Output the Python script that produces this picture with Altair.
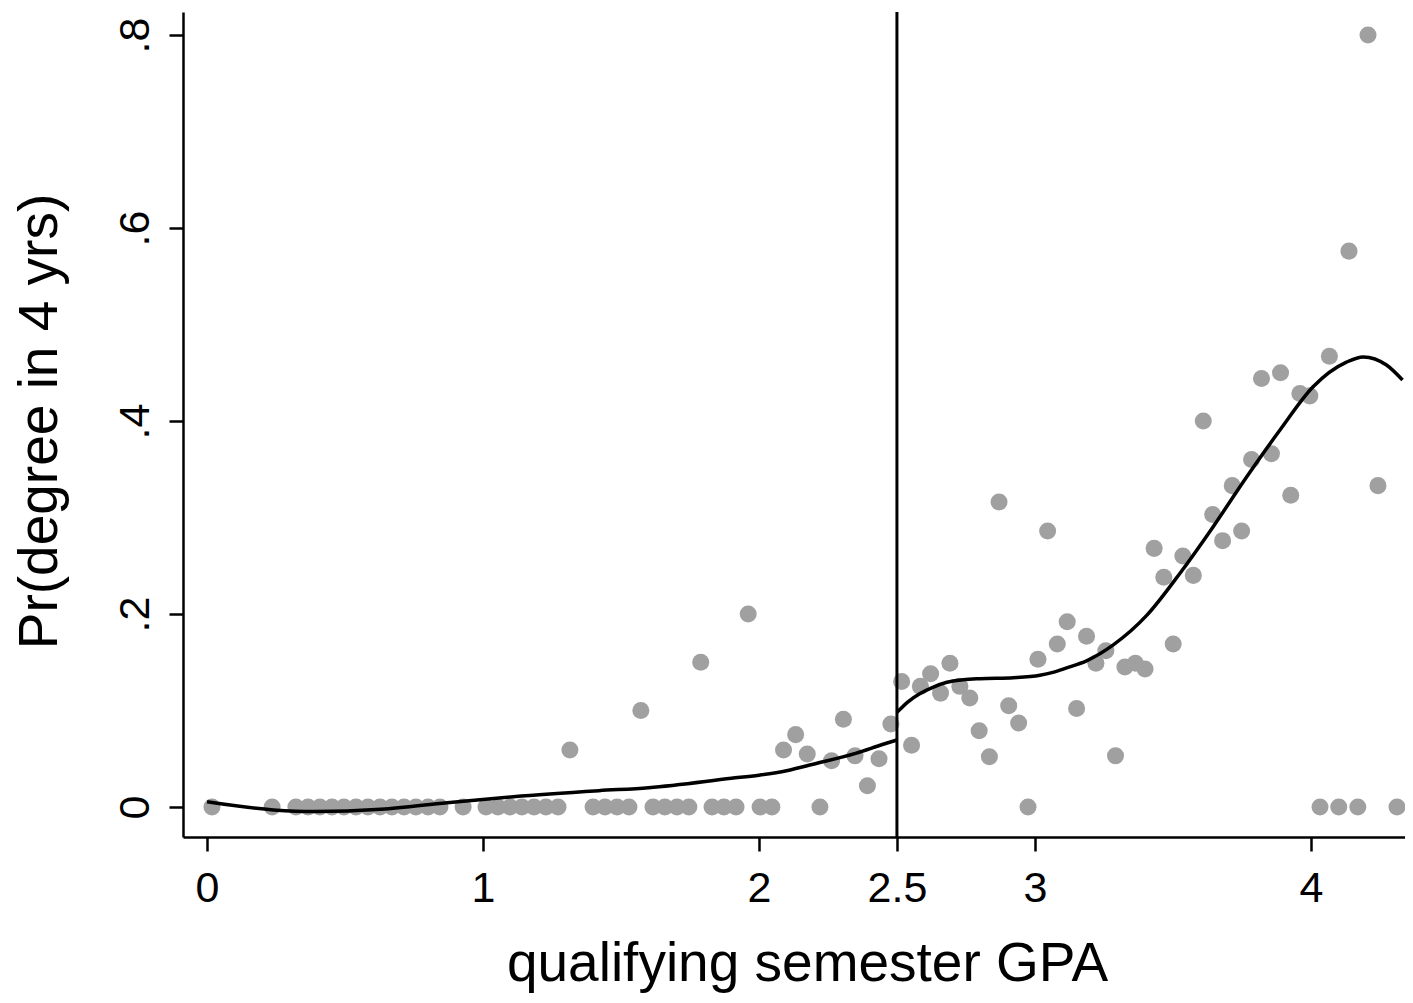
import altair as alt
import pandas as pd

# ---- data ----
zero_x = [0.018, 0.236, 0.322, 0.366, 0.409, 0.453, 0.496, 0.540, 0.583, 0.627,
          0.670, 0.714, 0.757, 0.801, 0.844, 0.928, 1.011, 1.054, 1.098, 1.141,
          1.185, 1.228, 1.272, 1.399, 1.442, 1.486, 1.529, 1.616, 1.659, 1.703,
          1.746, 1.830, 1.873, 1.917, 2.004, 2.047, 2.221, 2.975, 4.033, 4.101,
          4.170, 4.312]

pos_x = [1.315, 1.572, 1.789, 1.961, 2.089, 2.133, 2.175, 2.263, 2.306, 2.348,
         2.393, 2.435, 2.478, 2.517, 2.553, 2.585, 2.622, 2.658, 2.692, 2.728,
         2.764, 2.798, 2.835, 2.870, 2.905, 2.941, 3.011, 3.046, 3.081, 3.117,
         3.151, 3.187, 3.221, 3.257, 3.292, 3.326, 3.364, 3.399, 3.432, 3.467,
         3.501, 3.536, 3.574, 3.610, 3.644, 3.680, 3.715, 3.749, 3.785, 3.821,
         3.857, 3.890, 3.927, 3.960, 3.996, 4.067, 4.138, 4.207, 4.243]
pos_y = [0.059, 0.100, 0.150, 0.200, 0.059, 0.075, 0.055, 0.048, 0.091, 0.053,
         0.022, 0.050, 0.086, 0.130, 0.064, 0.125, 0.138, 0.118, 0.149, 0.125,
         0.113, 0.079, 0.052, 0.316, 0.105, 0.087, 0.153, 0.286, 0.169, 0.192,
         0.102, 0.177, 0.149, 0.162, 0.053, 0.145, 0.149, 0.143, 0.268, 0.238,
         0.169, 0.260, 0.240, 0.400, 0.303, 0.276, 0.333, 0.286, 0.360, 0.444,
         0.366, 0.450, 0.323, 0.4285, 0.426, 0.467, 0.576, 0.800, 0.333]

left_fit_x = [0.0, 0.24, 0.39, 0.63, 0.87, 1.11, 1.42, 1.6, 1.9, 2.0, 2.1, 2.2,
              2.35, 2.45, 2.5]
left_fit_y = [0.0055, -0.003, -0.0048, -0.0024, 0.0045, 0.0107, 0.0169, 0.020,
              0.0297, 0.033, 0.0376, 0.0446, 0.0556, 0.065, 0.0694]

right_fit_x = [2.5, 2.54, 2.584, 2.63, 2.681, 2.74, 2.801, 2.922, 3.018, 3.065,
               3.115, 3.187, 3.284, 3.405, 3.525, 3.646, 3.767, 3.888, 4.008,
               4.129, 4.19, 4.274, 4.332]
right_fit_y = [0.098, 0.109, 0.1176, 0.124, 0.1292, 0.1318, 0.133, 0.134, 0.1365,
               0.1395, 0.1442, 0.1515, 0.168, 0.1985, 0.242, 0.2905, 0.342,
               0.3907, 0.4355, 0.461, 0.4664, 0.458, 0.4425]

cutoff = [2.5]
x_ticks = [0, 1, 2, 2.5, 3, 4]
y_ticks = [0, 0.2, 0.4, 0.6, 0.8]

# ---- tables ----
pts = pd.DataFrame({
    "gpa": zero_x + pos_x,
    "p": [0.0] * len(zero_x) + pos_y,
})
fit = pd.DataFrame({
    "gpa": left_fit_x + right_fit_x,
    "p": left_fit_y + right_fit_y,
    "seg": ["left"] * len(left_fit_x) + ["right"] * len(right_fit_x),
})
cut = pd.DataFrame({"gpa": cutoff})

FONT = "Liberation Sans"

xscale = alt.Scale(domain=[-0.087, 4.341], nice=False, zero=False)
yscale = alt.Scale(domain=[-0.0311, 0.8238], nice=False, zero=False)

xaxis = alt.Axis(
    title="qualifying semester GPA",
    values=x_ticks,
    labelExpr="datum.value == 2.5 ? '2.5' : format(datum.value, 'd')",
    grid=False, tickSize=14, tickWidth=2.5, tickColor="black",
    domainColor="black", domainWidth=2.5,
    labelFont=FONT, labelFontSize=43, labelColor="black", labelPadding=16,
    labelFlush=False, labelOverlap=False,
    titleFont=FONT, titleFontSize=55, titleFontWeight="normal", titleColor="black",
    titleX=624, titleY=143, titleAlign="center", titleBaseline="alphabetic",
)
yaxis = alt.Axis(
    title="Pr(degree in 4 yrs)",
    values=y_ticks,
    labelExpr="datum.value == 0 ? '0' : replace(format(datum.value, '.1f'), '0.', '.')",
    grid=False, tickSize=14, tickWidth=2.5, tickColor="black",
    domainColor="black", domainWidth=2.5,
    labelFont=FONT, labelFontSize=43, labelColor="black", labelPadding=21,
    labelAngle=270, labelAlign="center", labelBaseline="alphabetic",
    labelFlush=False, labelOverlap=False,
    titleFont=FONT, titleFontSize=55, titleFontWeight="normal", titleColor="black",
    titleAngle=270, titleX=-127, titleY=409, titleAlign="center",
    titleBaseline="alphabetic",
)

points = alt.Chart(pts).mark_circle(size=290, color="#a0a0a0", opacity=1).encode(
    x=alt.X("gpa:Q", scale=xscale, axis=xaxis),
    y=alt.Y("p:Q", scale=yscale, axis=yaxis),
)

rule = alt.Chart(cut).mark_rule(color="black", strokeWidth=3).encode(
    x=alt.X("gpa:Q", scale=xscale),
)

lines = alt.Chart(fit).mark_line(color="black", strokeWidth=3.5, interpolate="monotone").encode(
    x=alt.X("gpa:Q", scale=xscale),
    y=alt.Y("p:Q", scale=yscale),
    detail="seg:N",
)

chart = alt.layer(points, rule, lines).properties(
    width=1222,
    height=825,
    autosize=alt.AutoSizeParams(type="none"),
    padding={"left": 175, "top": 4, "right": 0, "bottom": 158},
    background="white",
).configure_view(stroke=None)

chart.save("out.html", embed_options={"renderer": "svg", "actions": False})
